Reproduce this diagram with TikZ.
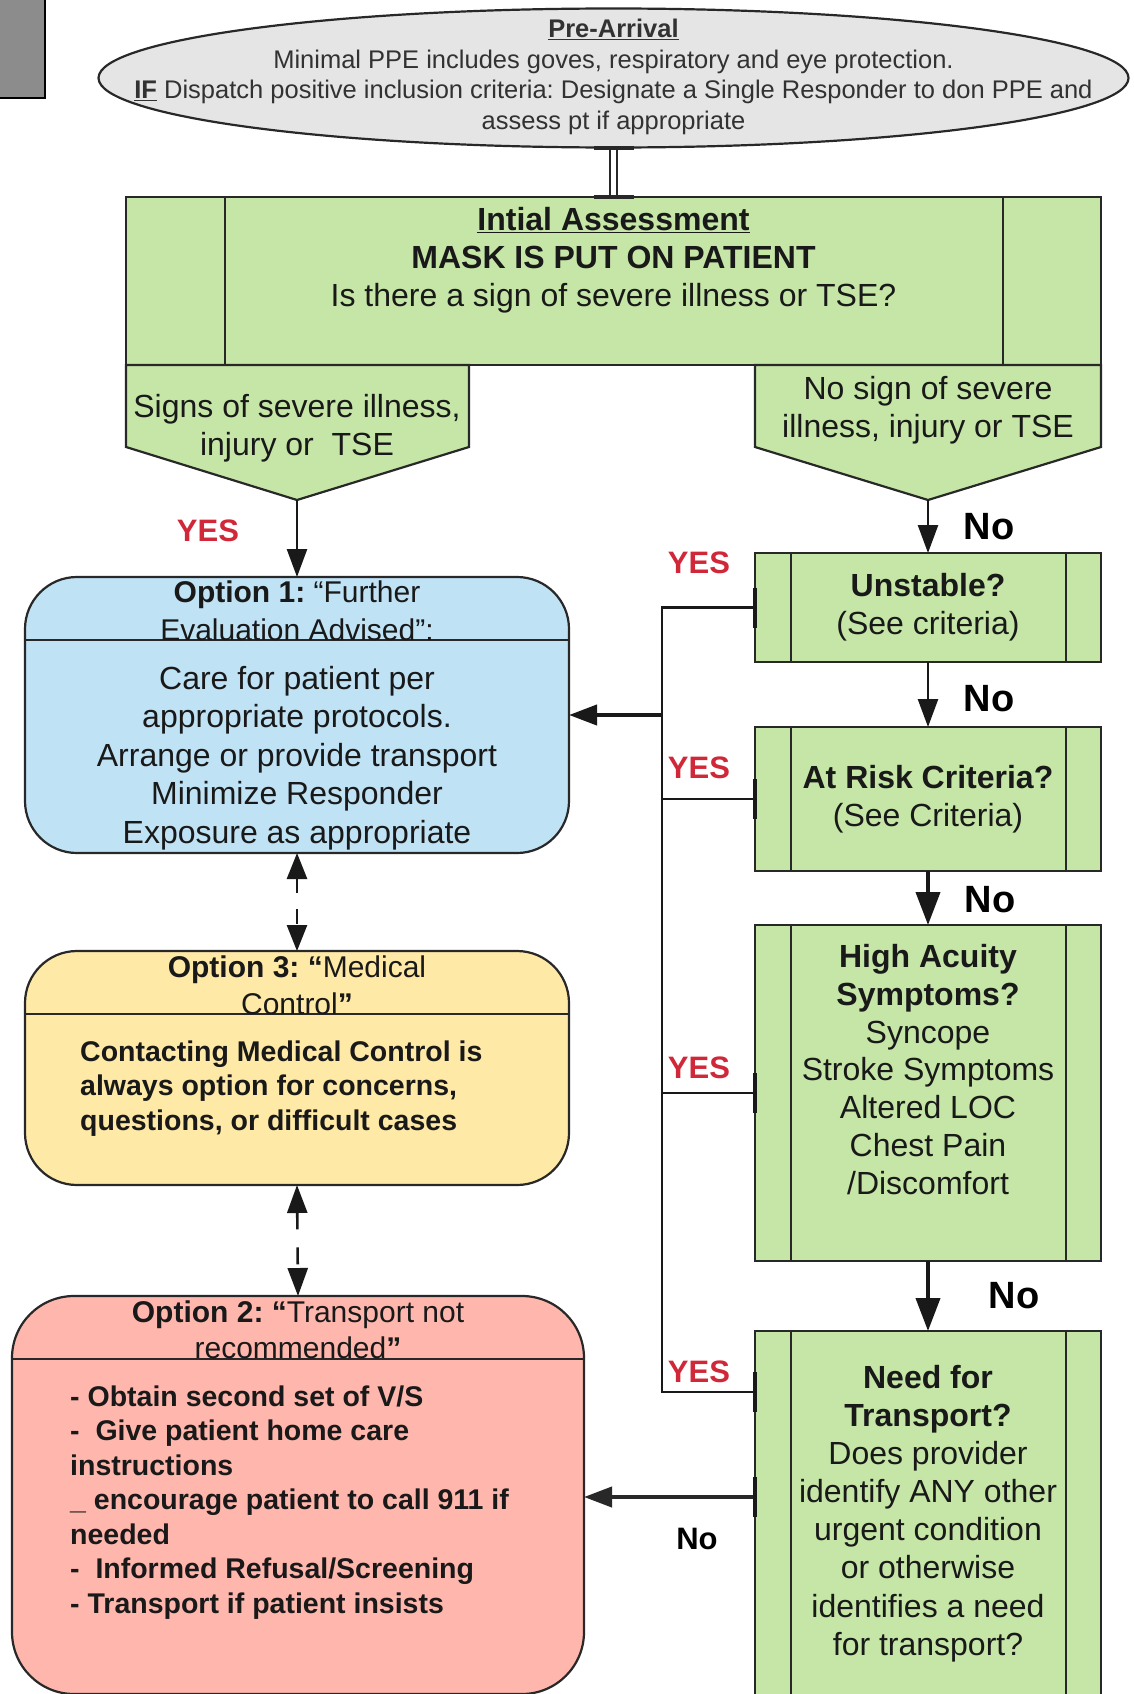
\documentclass[tikz,border=0pt]{standalone}
\usepackage{fontspec}
\setmainfont{Liberation Sans}
\usetikzlibrary{shapes.geometric,arrows.meta}
\definecolor{gfill}{RGB}{197,230,166}
\definecolor{bfill}{RGB}{192,226,245}
\definecolor{yfill}{RGB}{254,233,166}
\definecolor{pfill}{RGB}{255,183,173}
\definecolor{efill}{RGB}{229,229,229}
\definecolor{sqfill}{RGB}{140,140,140}
\definecolor{edge}{RGB}{40,40,40}
\definecolor{lineclr}{RGB}{25,25,25}
\definecolor{txt}{RGB}{25,25,25}
\definecolor{pretxt}{RGB}{50,50,50}
\definecolor{ytxt}{RGB}{208,40,56}
\newcommand{\myfs}[2]{\fontsize{#1}{#2}\selectfont}
\frenchspacing
\begin{document}
\begin{tikzpicture}[x=1pt,y=-1pt,
  shapeline/.style={draw=edge, line width=2.2pt, inner sep=0pt, outer sep=0pt},
  greenbox/.style={shapeline, rectangle, fill=gfill},
  optbox/.style={shapeline, rectangle, rounded corners=#1},
  boxtext/.style={inner sep=0pt, text=txt, align=center, font=\myfs{32}{38}},
  titletext/.style={inner sep=0pt, text=txt, align=center, font=\myfs{30}{37}},
  listtext/.style={inner sep=0pt, text=txt, align=left, anchor=west, font=\bfseries\myfs{28.5}{34.5}},
  yeslabel/.style={inner sep=0pt, text=ytxt, font=\bfseries\myfs{31}{36}},
  nolabel/.style={inner sep=0pt, text=black, font=\bfseries\myfs{38}{44}},
  conn/.style={draw=lineclr, line width=2.6pt},
  thickconn/.style={draw=lineclr, line width=4pt},
  arrowthin/.style={-{Triangle[length=28pt,width=20pt]}},
  arrowthick/.style={-{Triangle[length=33pt,width=24pt]}},
  edgetick/.style={draw=lineclr, line width=4.5pt},
]
\useasboundingbox (0,0) rectangle (1133,1694);

% corner square
\node[draw=black, line width=2pt, fill=sqfill, rectangle, minimum width=48pt, minimum height=101pt, inner sep=0pt] (corner) at (21,47.5) {};

% pre-arrival ellipse
\node[shapeline, ellipse, fill=efill, minimum width=1030pt, minimum height=139pt] (pre) at (613.5,78) {};
\node[inner sep=0pt, text=pretxt, align=center, font=\myfs{25.5}{30.7}] (pretext) at (613.5,77) {\underline{\textbf{Pre-Arrival}}\\Minimal PPE includes goves, respiratory and eye protection.\\\underline{\textbf{IF}} Dispatch positive inclusion criteria: Designate a Single Responder to don PPE and\\assess pt if appropriate};

% initial assessment
\node[greenbox, minimum width=975pt, minimum height=168pt] (init) at (613.5,281) {};
\draw[shapeline] ([xshift=99pt]init.north west) -- ([xshift=99pt]init.south west);
\draw[shapeline] ([xshift=-98pt]init.north east) -- ([xshift=-98pt]init.south east);
\node[boxtext] (inittext) at (613.5,260.5) {\underline{\textbf{Intial Assessment}}\\\textbf{MASK IS PUT ON PATIENT}\\Is there a sign of severe illness or TSE?};

% double connector
\draw[draw=edge, line width=2pt, double=white, double distance=4.5pt] (pre.south) -- (init.north);
\draw[draw=edge, line width=4pt] ([xshift=-20pt]pre.south) -- ([xshift=20pt]pre.south);
\draw[draw=edge, line width=4pt] ([xshift=-20pt]init.north) -- ([xshift=20pt]init.north);

% pentagons
\draw[shapeline, fill=gfill] (126,365) -- (469,365) -- (469,447) -- (297,500) -- (126,447) -- cycle;
\coordinate (ltip) at (297,500);
\draw[shapeline, fill=gfill] (755,365) -- (1101,365) -- (1101,447) -- (928,500) -- (755,447) -- cycle;
\coordinate (rtip) at (928,500);
\node[boxtext] (ltext) at (297,428) {Signs of severe illness,\\injury or~ TSE};
\node[boxtext] (rtext) at (928,410) {No sign of severe\\illness, injury or TSE};

% option 1
\node[optbox=52pt, fill=bfill, minimum width=544pt, minimum height=276pt] (opt1) at (297,715) {};
\draw[shapeline] ([yshift=-63pt]opt1.north west) -- ([yshift=-63pt]opt1.north east);
\node[titletext, font=\myfs{30}{38}] (opt1title) at (297,611) {\textbf{Option 1:} “Further\\Evaluation Advised”:};
\node[boxtext, font=\myfs{32}{38.4}] (opt1body) at (297,758) {Care for patient per\\appropriate protocols.\\Arrange or provide transport\\Minimize Responder\\Exposure as appropriate};

% option 3
\node[optbox=52pt, fill=yfill, minimum width=544pt, minimum height=234pt] (opt3) at (297,1068) {};
\draw[shapeline] ([yshift=-63pt]opt3.north west) -- ([yshift=-63pt]opt3.north east);
\node[titletext] (opt3title) at (297,985) {\textbf{Option 3: “}Medical\\Control\textbf{”}};
\node[listtext] (opt3body) at (80,1088.5) {Contacting Medical Control is\\always option for concerns,\\questions, or difficult cases};

% option 2
\node[optbox=62pt, fill=pfill, minimum width=572pt, minimum height=398pt] (opt2) at (298,1495) {};
\draw[shapeline] ([yshift=-63pt]opt2.north west) -- ([yshift=-63pt]opt2.north east);
\node[titletext, font=\myfs{30}{36}] (opt2title) at (298,1330) {\textbf{Option 2: “}Transport not\\recommended\textbf{”}};
\node[listtext] (opt2body) at (70,1502.5) {- Obtain second set of V/S\\-\ \ Give patient home care\\instructions\\\_ encourage patient to call 911 if\\needed\\-\ \ Informed Refusal/Screening\\- Transport if patient insists};

% right column process boxes
\node[greenbox, minimum width=346pt, minimum height=109pt] (unstable) at (928,607.5) {};
\node[greenbox, minimum width=346pt, minimum height=144pt] (atrisk) at (928,799) {};
\node[greenbox, minimum width=346pt, minimum height=336pt] (acuity) at (928,1093) {};
\node[greenbox, minimum width=346pt, minimum height=379pt] (need) at (928,1520.5) {};
\foreach \b in {unstable,atrisk,acuity,need}{
  \draw[shapeline] ([xshift=36pt]\b.north west) -- ([xshift=36pt]\b.south west);
  \draw[shapeline] ([xshift=-35pt]\b.north east) -- ([xshift=-35pt]\b.south east);
}
\node[boxtext] (unstabletext) at (928,607) {\textbf{Unstable?}\\(See criteria)};
\node[boxtext] (atrisktext) at (928,799) {\textbf{At Risk Criteria?}\\(See Criteria)};
\node[boxtext, font=\myfs{32}{37.8}] (acuitytext) at (928,1069.5) {\textbf{High Acuity}\\\textbf{Symptoms?}\\Syncope\\Stroke Symptoms\\Altered LOC\\Chest Pain\\/Discomfort};
\node[boxtext, font=\myfs{32}{38.1}] (needtext) at (928,1513.5) {\textbf{Need for}\\\textbf{Transport?}\\Does provider\\identify ANY other\\urgent condition\\or otherwise\\identifies a need\\for transport?};

% connectors
\draw[conn, arrowthin] (ltip) -- (opt1.north);
\draw[conn, arrowthin] (rtip) -- (unstable.north);
\draw[conn, arrowthin] (unstable.south) -- (atrisk.north);
\draw[thickconn, arrowthick] (atrisk.south) -- (acuity.north);
\draw[thickconn, arrowthick] (acuity.south) -- (need.north);

\coordinate (bus) at (662,715);
\coordinate (needyes) at (755,1392);
\coordinate (needno) at (755,1497);
\draw[conn] (unstable.west) -| (bus);
\draw[conn] (atrisk.west) -| (bus);
\draw[conn] (acuity.west) -| (bus);
\draw[conn] (needyes) -| (bus);
\draw[thickconn, arrowthin] (bus) -- (opt1.east);
\draw[draw=edge, line width=4pt, arrowthin] (needno) -- (opt2.east |- needno);

\foreach \p in {unstable.west,atrisk.west,acuity.west,needyes,needno}{
  \draw[edgetick] ([yshift=20pt]\p) -- ([yshift=-20pt]\p);
}

% dashed two-way arrows
\draw[conn, dash pattern=on 15pt off 16pt, {Triangle[length=26pt,width=20pt]}-{Triangle[length=26pt,width=20pt]}] (opt1.south) -- (opt3.north);
\draw[conn, dash pattern=on 17pt off 18pt, {Triangle[length=28pt,width=20pt]}-{Triangle[length=28pt,width=20pt]}] (opt3.south) -- (opt2.north);

% labels
\node[yeslabel] (yes0) at (208,531) {YES};
\node[yeslabel] (yes1) at (699,563) {YES};
\node[yeslabel] (yes2) at (699,768) {YES};
\node[yeslabel] (yes3) at (699,1068) {YES};
\node[yeslabel] (yes4) at (699,1372) {YES};
\node[nolabel] (no1) at (989,527) {No};
\node[nolabel] (no2) at (989,699) {No};
\node[nolabel] (no3) at (990,900) {No};
\node[nolabel] (no4) at (1014,1296) {No};
\node[nolabel, font=\bfseries\myfs{31}{36}] (no5) at (697,1539) {No};
\end{tikzpicture}
\end{document}
